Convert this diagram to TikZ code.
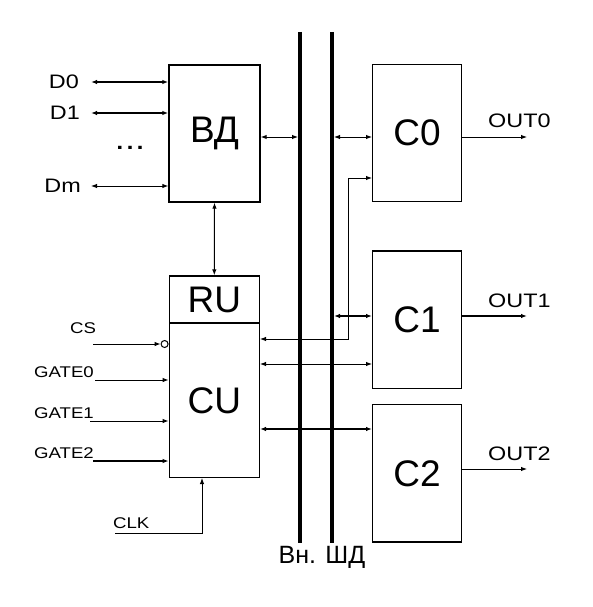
\documentclass[tikz,border=0pt]{standalone}
\usepackage{fontspec}
\setmainfont{Liberation Sans}
\newfontfamily\lblfont[FakeStretch=1.2]{Liberation Sans}
\usetikzlibrary{arrows.meta, positioning}
\tikzset{>={Latex[length=6pt,width=4.5pt]}}

\begin{document}
\begin{tikzpicture}[x=1pt, y=-1pt,
    blk/.style={draw, line width=1.4pt, inner sep=0pt, font=\fontsize{37}{40}\selectfont},
    bus/.style={line width=4pt},
    wire/.style={line width=1pt},
    fat/.style={line width=1.7pt},
    lbl/.style={inner sep=0pt, font=\lblfont\fontsize{19.5}{20}\selectfont},
    sml/.style={inner sep=0pt, font=\lblfont\fontsize{15.5}{16}\selectfont}]
            \useasboundingbox (0,0) rectangle (593,607);

            % blocks
            \node[blk, minimum width=91pt, minimum height=137pt] (vd) at (214.5,133.5) {ВД};
            \node[blk, minimum width=90pt, minimum height=47pt] (ru) at (214.3,299.5) {RU};
            \node[blk, minimum width=90pt, minimum height=154pt] (cu) at (214.3,400.3) {CU};
            \node[blk, minimum width=88.6pt, minimum height=137.4pt] (c0) at (417,133) {C0};
            \node[blk, minimum width=88.6pt, minimum height=137.4pt] (c1) at (417,319.5) {C1};
            \node[blk, minimum width=88.6pt, minimum height=137.4pt] (c2) at (417,473.3) {C2};

            % bus
            \coordinate (ba) at (300,32);
            \coordinate (ba2) at (300,543);
            \coordinate (bb) at (332,32);
            \coordinate (bb2) at (332,543);
            \draw[bus] (ba) -- (ba2);
            \draw[bus] (bb) -- (bb2);
            \node[inner sep=0pt, anchor=base, font=\fontsize{25}{26}\selectfont] (lbus) at (322,563) {Вн. ШД};

            % rows
            \coordinate (r0) at (0,137);
            \coordinate (r1) at (0,316);
            \coordinate (r2) at (0,339);
            \coordinate (r3) at (0,364);
            \coordinate (r4) at (0,429);
            \coordinate (tap) at (348,178);

            \draw[wire, <->, shorten >=2pt] (r0 -| vd.east) -- (r0 -| ba);
            \draw[wire, <->, shorten <=2pt] (r0 -| bb) -- (r0 -| c0.west);
            \draw[wire, <->] (r2 -| cu.east) -| (tap) -- (tap -| c0.west);
            \draw[fat, <->, shorten <=2pt] (r1 -| bb) -- (r1 -| c1.west);
            \draw[wire, <->] (r3 -| cu.east) -- (r3 -| c1.west);
            \draw[fat, <->] (r4 -| cu.east) -- (r4 -| c2.west);
            \draw[wire, <->] (vd.south) -- (ru.north);

            % outputs
            \coordinate (o0) at (527,137);
            \coordinate (o1) at (527,316);
            \coordinate (o2) at (527,469);
            \draw[wire, ->] (o0 -| c0.east) -- (o0);
            \draw[fat, ->] (o1 -| c1.east) -- (o1);
            \draw[wire, ->] (o2 -| c2.east) -- (o2);
            \node[lbl, anchor=base west] (lo0) at (488,128) {OUT0};
            \node[lbl, anchor=base west] (lo1) at (488,307) {OUT1};
            \node[lbl, anchor=base west] (lo2) at (488,460) {OUT2};

            % data lines
            \node[lbl, anchor=east] (ld0) at (79,82) {D0};
            \node[lbl, anchor=east] (ld1) at (80,113) {D1};
            \node[lbl, anchor=east] (ldm) at (81,186) {Dm};
            \node[lbl, font=\lblfont\fontsize{30}{30}\selectfont] (dots) at (130,148) {...};
            \coordinate (d0) at (91,82);
            \coordinate (d1) at (91,113);
            \coordinate (dm) at (91,186);
            \draw[fat, <->] (d0) -- (d0 -| vd.west);
            \draw[fat, <->] (d1) -- (d1 -| vd.west);
            \draw[wire, <->] (dm) -- (dm -| vd.west);

            % control inputs
            \coordinate (cs) at (93,344);
            \node[draw, circle, wire, inner sep=0pt, minimum size=7pt, anchor=east] (inv) at (cs -| cu.west) {};
            \draw[wire, ->] (cs) -- (inv);
            \node[sml, anchor=base] (lcs) at (83,333) {CS};

            \coordinate (g0) at (95,380);
            \coordinate (g1) at (90,421);
            \coordinate (g2) at (93,461);
            \draw[wire, ->] (g0) -- (g0 -| cu.west);
            \draw[wire, ->] (g1) -- (g1 -| cu.west);
            \draw[fat, ->] (g2) -- (g2 -| cu.west);
            \node[sml, anchor=base east] (lg0) at (94,377) {GATE0};
            \node[sml, anchor=base east] (lg1) at (94,418) {GATE1};
            \node[sml, anchor=base east] (lg2) at (94,458) {GATE2};

            \coordinate (clk) at (115,533);
            \coordinate (ck) at (202,533);
            \draw[wire, ->] (clk) -- (ck) -- (ck |- cu.south);
            \node[sml, anchor=base west] (lclk) at (113,528) {CLK};

            \end{tikzpicture}
\end{document}
